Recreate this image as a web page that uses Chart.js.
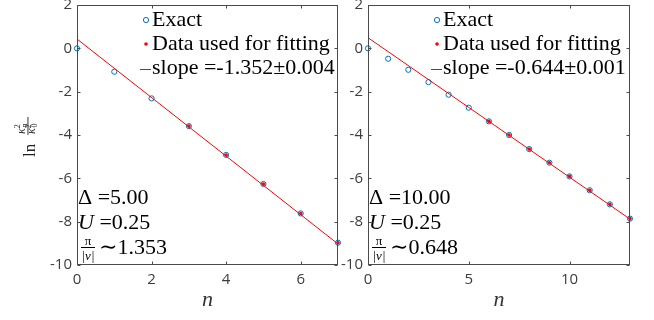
<!DOCTYPE html>
<html>
<head>
<meta charset="utf-8">
<script src="https://cdn.jsdelivr.net/npm/chart.js@4.4.0/dist/chart.umd.min.js"></script>
<style>
  html, body { margin: 0; padding: 0; background: #fff; }
  body { width: 654px; height: 320px; position: relative; overflow: hidden; }
  .panel { position: absolute; top: 0; height: 320px; }
</style>
</head>
<body>
<div class="panel" style="left:0;width:350px"><canvas id="chartLeft"></canvas></div>
<div class="panel" style="left:334px;width:320px"><canvas id="chartRight"></canvas></div>
<script>
// ---- data ----
const nLeft = [0, 1, 2, 3, 4, 5, 6, 7];
const exactLeft = [0, -1.08, -2.31, -3.59, -4.92, -6.26, -7.62, -8.97];
const fitNLeft = [3, 4, 5, 6, 7];
const fitLeft = [-3.59, -4.92, -6.26, -7.62, -8.97];
const lineNLeft = [0, 7];
const lineLeft = [0.43, -9.03];
const xTicksLeft = [0, 2, 4, 6];
const legendLeft = ['Exact', 'Data used for fitting', 'slope =-1.352\u00b10.004'];
const deltaLeft = '5.00';
const uLeft = '0.25';
const ratioLeft = '1.353';

const nRight = [0, 1, 2, 3, 4, 5, 6, 7, 8, 9, 10, 11, 12, 13];
const exactRight = [0, -0.48, -0.99, -1.56, -2.14, -2.74, -3.37, -4.00, -4.65, -5.28, -5.91, -6.55, -7.20, -7.86];
const fitNRight = [6, 7, 8, 9, 10, 11, 12, 13];
const fitRight = [-3.37, -4.00, -4.65, -5.28, -5.91, -6.55, -7.20, -7.86];
const lineNRight = [0, 13];
const lineRight = [0.49, -7.88];
const xTicksRight = [0, 5, 10];
const legendRight = ['Exact', 'Data used for fitting', 'slope =-0.644\u00b10.001'];
const deltaRight = '10.00';
const uRight = '0.25';
const ratioRight = '0.648';

const yTicks = [-10, -8, -6, -4, -2, 0, 2];

const BLUE = '#0072BD';
const RED = '#ff0000';
const AXIS = '#4a4a4a';
const TICK = '#3c3c3c';
const SANS = '"Open Sans", "Noto Sans", sans-serif';
const SERIF = '"Liberation Serif", "DejaVu Serif", serif';

// draw a row of text pieces with different fonts / offsets
function drawRuns(ctx, x, y, runs) {
  for (const [t, f, dy] of runs) {
    ctx.font = f;
    ctx.fillText(t, x, y + (dy || 0));
    x += ctx.measureText(t).width;
  }
  return x;
}

// box with inward ticks, legend, annotations, labels (MATLAB look)
const matlabBox = {
  id: 'matlabBox',
  afterDatasetsDraw(chart, args, o) {
    const ctx = chart.ctx;
    const ca = chart.chartArea;
    const xs = chart.scales.x, ys = chart.scales.y;
    const L = Math.round(ca.left) + 0.5, R = Math.round(ca.right) - 0.5;
    const T = Math.round(ca.top) + 0.5, B = Math.round(ca.bottom) - 0.5;
    ctx.save();
    ctx.strokeStyle = AXIS;
    ctx.lineWidth = 1;
    ctx.strokeRect(L, T, R - L, B - T);
    ctx.beginPath();
    xs.ticks.forEach(t => {
      const px = Math.round(xs.getPixelForValue(t.value)) + 0.5;
      ctx.moveTo(px, B); ctx.lineTo(px, B - 3);
      ctx.moveTo(px, T); ctx.lineTo(px, T + 3);
    });
    ys.ticks.forEach(t => {
      const py = Math.round(ys.getPixelForValue(t.value)) + 0.5;
      ctx.moveTo(L, py); ctx.lineTo(L + 3, py);
      ctx.moveTo(R, py); ctx.lineTo(R - 3, py);
    });
    ctx.stroke();

    // legend
    const lx = ca.left + 69, ty = ca.top;
    ctx.strokeStyle = BLUE;
    ctx.beginPath(); ctx.arc(lx, ty + 15, 2.6, 0, Math.PI * 2); ctx.stroke();
    ctx.fillStyle = RED;
    ctx.beginPath(); ctx.arc(lx, ty + 39, 1.8, 0, Math.PI * 2); ctx.fill();
    ctx.strokeStyle = RED;
    ctx.beginPath(); ctx.moveTo(lx - 6, ty + 64.5); ctx.lineTo(lx + 5, ty + 64.5); ctx.stroke();
    ctx.fillStyle = '#000';
    ctx.textBaseline = 'alphabetic';
    ctx.textAlign = 'left';
    const lf = '22px ' + SERIF;
    o.legend.forEach((s, i) => drawRuns(ctx, lx + 6, ty + 21 + 24 * i, [[s, lf]]));

    // parameter annotations
    const ax = ca.left + 1, bb = ca.bottom;
    const af = '22px ' + SERIF, ai = 'italic 22px ' + SERIF;
    drawRuns(ctx, ax, bb - 61, [['\u0394 ', af], ['=' + o.delta, af]]);
    drawRuns(ctx, ax, bb - 36, [['U', ai], [' =' + o.u, af]]);
    ctx.font = '13px ' + SERIF;
    ctx.textAlign = 'center';
    ctx.fillText('\u03c0', ca.left + 11, bb - 20);
    ctx.font = 'italic 13px ' + SERIF;
    ctx.fillText('|\u03bd|', ca.left + 11, bb - 5);
    ctx.textAlign = 'left';
    ctx.fillRect(ca.left + 4, bb - 18, 14, 1);
    drawRuns(ctx, ca.left + 22, bb - 11, [['\u223c' + o.ratio, af]]);

    // x axis title
    ctx.font = 'italic 22px ' + SERIF;
    ctx.textAlign = 'center';
    ctx.fillStyle = '#333';
    ctx.fillText('n', (ca.left + ca.right) / 2, 306);

    // y axis title, rotated
    if (o.ylabel) {
      ctx.fillStyle = '#222';
      ctx.translate(35, 157);
      ctx.rotate(-Math.PI / 2);
      ctx.textAlign = 'left';
      drawRuns(ctx, 0, 0, [['ln', '17px ' + SERIF]]);
      const fx = 23;
      drawRuns(ctx, fx, -10, [['\u03ba', 'italic 12px ' + SERIF], ['2', '8px ' + SERIF, -5]]);
      drawRuns(ctx, fx + 6.5, -8, [['n', 'italic 8px ' + SERIF]]);
      ctx.fillRect(fx - 1, -7.5, 18, 0.9);
      drawRuns(ctx, fx, 0, [['\u03ba', 'italic 12px ' + SERIF], ['2', '8px ' + SERIF, -4]]);
      drawRuns(ctx, fx + 6.5, 2, [['0', '8px ' + SERIF]]);
    }
    ctx.restore();
  }
};

function makeChart(id, o) {
  return new Chart(document.getElementById(id), {
    type: 'scatter',
    data: {
      datasets: [
        {
          label: o.legend[0],
          data: o.n.map((x, i) => ({ x, y: o.exact[i] })),
          pointStyle: 'circle',
          pointRadius: 2.6,
          pointBorderWidth: 1,
          borderColor: BLUE,
          backgroundColor: 'rgba(0,0,0,0)',
          order: 3,
          clip: false
        },
        {
          label: o.legend[1],
          data: o.fitN.map((x, i) => ({ x, y: o.fit[i] })),
          pointRadius: 1.8,
          pointBorderWidth: 0,
          borderColor: RED,
          backgroundColor: RED,
          order: 2,
          clip: false
        },
        {
          type: 'line',
          label: o.legend[2],
          data: o.lineN.map((x, i) => ({ x, y: o.line[i] })),
          borderColor: RED,
          borderWidth: 1,
          pointRadius: 0,
          fill: false,
          order: 1
        }
      ]
    },
    options: {
      responsive: true,
      maintainAspectRatio: false,
      animation: false,
      events: [],
      layout: { padding: { left: 0, top: 5, right: o.padRight, bottom: 0 } },
      plugins: {
        legend: { display: false },
        tooltip: { enabled: false },
        matlabBox: o
      },
      scales: {
        x: {
          type: 'linear',
          min: 0,
          max: o.xMax,
          grid: { display: false, drawTicks: false },
          border: { display: false },
          afterBuildTicks: s => { s.ticks = o.xTicks.map(v => ({ value: v })); },
          ticks: { font: { family: SANS, size: 15 }, color: TICK, padding: 6, maxRotation: 0 },
          afterFit: s => { s.height = 55; s.paddingLeft = 0; s.paddingRight = 0; }
        },
        y: {
          type: 'linear',
          min: -10,
          max: 2,
          grid: { display: false, drawTicks: false },
          border: { display: false },
          afterBuildTicks: s => { s.ticks = yTicks.map(v => ({ value: v })); },
          ticks: { font: { family: SANS, size: 15 }, color: TICK, padding: 5 },
          afterFit: s => { s.width = o.yWidth; s.paddingTop = 0; s.paddingBottom = 0; }
        }
      }
    },
    plugins: [matlabBox]
  });
}

makeChart('chartLeft', {
  n: nLeft, exact: exactLeft, fitN: fitNLeft, fit: fitLeft,
  lineN: lineNLeft, line: lineLeft, xTicks: xTicksLeft, xMax: 7,
  legend: legendLeft, delta: deltaLeft, u: uLeft, ratio: ratioLeft,
  yWidth: 77, padRight: 12, ylabel: true
});
makeChart('chartRight', {
  n: nRight, exact: exactRight, fitN: fitNRight, fit: fitRight,
  lineN: lineNRight, line: lineRight, xTicks: xTicksRight, xMax: 13,
  legend: legendRight, delta: deltaRight, u: uRight, ratio: ratioRight,
  yWidth: 34, padRight: 24, ylabel: false
});
</script>
</body>
</html>
